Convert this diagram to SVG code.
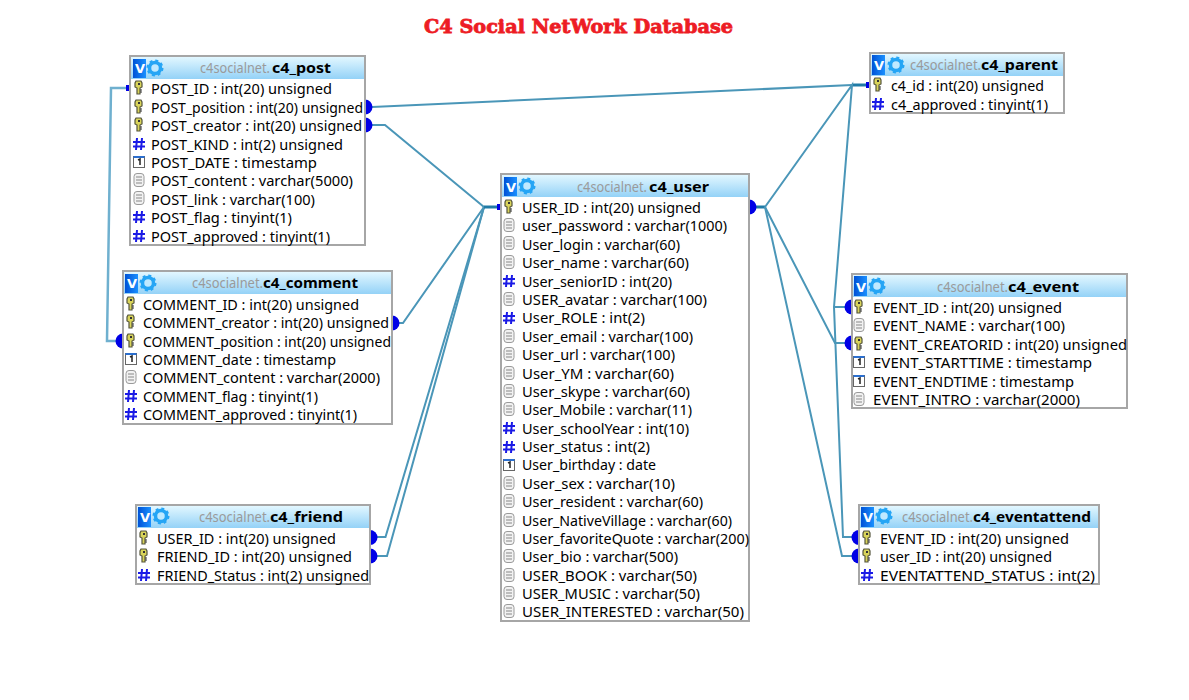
<svg xmlns="http://www.w3.org/2000/svg" width="1189" height="700" viewBox="0 0 1189 700">
<style>
.box{fill:#fff;stroke:#a6a6a6;stroke-width:2}
.hd{fill:url(#hg)}
.vb{fill:url(#vg)}
.v{font:bold 13px "DejaVu Sans",sans-serif;fill:#fff}
.r{font:14px "Noto Sans","Liberation Sans",sans-serif;fill:#000}
.t{font:14px "Noto Sans","Liberation Sans",sans-serif;fill:#9a9a9a}
.b{font:bold 15px "Noto Sans","Liberation Sans",sans-serif;fill:#000}
.c{fill:none;stroke:#4a96b8;stroke-width:2}
.k{fill:none;stroke:#1f7ba6;stroke-width:3}
.l{fill:none;stroke:#6fb0cf;stroke-width:2.500}
.p{fill:#0000e6}
.h{stroke:#1a1ae6;stroke-width:2;fill:none}
</style>
<defs>
<linearGradient id="hg" x1="0" y1="0" x2="0" y2="1"><stop offset="0" stop-color="#e2f7ff"/><stop offset="1" stop-color="#94d2f7"/></linearGradient>
<linearGradient id="vg" x1="0" y1="0" x2="1" y2="0"><stop offset="0" stop-color="#0052d6"/><stop offset="1" stop-color="#1a90ff"/></linearGradient>
<g id="gear"><circle r="5.500" fill="#bfe9ff" stroke="#25a5f5" stroke-width="3.500"/><circle r="7.500" fill="none" stroke="#25a5f5" stroke-width="2" stroke-dasharray="3 2.900"/></g>
<g id="key"><path d="M-3-7H2L3-5V-1L1 0V6H-2V0L-4-1V-5Z" fill="#d9d45a" stroke="#55553c" stroke-width="1.200"/><rect x="-1" y="-5" width="2" height="2" fill="#333"/><path d="M1 2H3M1 4H3" stroke="#333"/></g>
<g id="num"><path class="h" d="M-2-6-3 6M3-6 2 6M-6-2H6M-6 2.500H6"/></g>
<g id="dat"><rect x="-5.500" y="-5.500" width="11" height="11" fill="#fff" stroke="#666"/><rect x="-5.500" y="-6" width="11" height="2" fill="#2a6fd0"/><path d="M-1-2 1-3V3" fill="none" stroke="#222" stroke-width="1.500"/></g>
<g id="txt"><rect x="-5" y="-6.500" width="10" height="13" rx="3" fill="#f2f2f2" stroke="#9a9a9a"/><path d="M-3-3H3M-3 0H3M-3 3H3" stroke="#888"/></g>
</defs>
<rect width="1189" height="700" fill="#fff"/>
<text x="424" y="33" textLength="309" lengthAdjust="spacingAndGlyphs" font-family="'DejaVu Serif',serif" font-weight="bold" font-size="18" fill="#ed1c24" stroke="#ed1c24" stroke-width=".8">C4 Social NetWork Database</text>
<g id="connectors">
<path class="l" d="M130 88H111L107 341H118"/>
<path class="c" d="M372 107 852 85"/><path class="k" d="M852 85H870"/>
<path class="c" d="M372 125H385L484 207"/><path class="c" d="M398 323H403L484 207"/>
<path class="c" d="M376 537H385.500L484 207"/><path class="c" d="M376 556H387L484 207"/>
<path class="k" d="M484 207H501"/><path class="k" d="M749 207H765"/>
<path class="c" d="M765 207 852 85 834 307 843 537H855"/>
<path class="c" d="M834 307H848"/>
<path class="c" d="M765 207 835 343H848"/>
<path class="c" d="M765 207 842 556H855"/>
<rect class="p" x="126" y="85" width="4" height="6"/><rect class="p" x="497" y="204" width="4" height="6"/><rect class="p" x="866" y="82" width="4" height="6"/>
<path class="p" d="M123 333.500a7.500 7.500 0 0 0 0 15z"/>
<path class="p" d="M365 99.500a7.500 7.500 0 0 1 0 15z"/><path class="p" d="M365 117.500a7.500 7.500 0 0 1 0 15z"/>
<path class="p" d="M392 315.500a7.500 7.500 0 0 1 0 15z"/>
<path class="p" d="M370 530a7.500 7.500 0 0 1 0 15z"/><path class="p" d="M370 548.500a7.500 7.500 0 0 1 0 15z"/>
<path class="p" d="M749 199.500a7.500 7.500 0 0 1 0 15z"/>
<path class="p" d="M852 299.500a7.500 7.500 0 0 0 0 15z"/><path class="p" d="M852 335.500a7.500 7.500 0 0 0 0 15z"/>
<path class="p" d="M859 530a7.500 7.500 0 0 0 0 15z"/><path class="p" d="M859 548.500a7.500 7.500 0 0 0 0 15z"/>
</g>
<g id="c4_post">
<rect class="box" x="130" y="56" width="235" height="189"/><rect class="hd" x="131" y="57" width="233" height="22"/><rect class="vb" x="133" y="59" width="13" height="19"/><text class="v" x="135" y="73">V</text><use href="#gear" x="155" y="68"/>
<text class="t" x="200" y="73" textLength="70" lengthAdjust="spacingAndGlyphs">c4socialnet.</text><text class="b" x="272" y="73" textLength="59" lengthAdjust="spacingAndGlyphs">c4_post</text>
<use href="#key" x="139" y="88"/><text class="r" x="151" y="94" textLength="181" lengthAdjust="spacingAndGlyphs">POST_ID : int(20) unsigned</text>
<use href="#key" x="139" y="107"/><text class="r" x="151" y="113" textLength="212" lengthAdjust="spacingAndGlyphs">POST_position : int(20) unsigned</text>
<use href="#key" x="139" y="125"/><text class="r" x="151" y="131" textLength="211" lengthAdjust="spacingAndGlyphs">POST_creator : int(20) unsigned</text>
<use href="#num" x="139" y="144"/><text class="r" x="151" y="150" textLength="192" lengthAdjust="spacingAndGlyphs">POST_KIND : int(2) unsigned</text>
<use href="#dat" x="139" y="162"/><text class="r" x="151" y="168" textLength="166" lengthAdjust="spacingAndGlyphs">POST_DATE : timestamp</text>
<use href="#txt" x="139" y="180"/><text class="r" x="151" y="186" textLength="202" lengthAdjust="spacingAndGlyphs">POST_content : varchar(5000)</text>
<use href="#txt" x="139" y="198"/><text class="r" x="151" y="205" textLength="164" lengthAdjust="spacingAndGlyphs">POST_link : varchar(100)</text>
<use href="#num" x="139" y="217"/><text class="r" x="151" y="223" textLength="141" lengthAdjust="spacingAndGlyphs">POST_flag : tinyint(1)</text>
<use href="#num" x="139" y="236"/><text class="r" x="151" y="242" textLength="179" lengthAdjust="spacingAndGlyphs">POST_approved : tinyint(1)</text>
</g>
<g id="c4_comment">
<rect class="box" x="123" y="271" width="269" height="153"/><rect class="hd" x="124" y="272" width="267" height="22"/><rect class="vb" x="125" y="274" width="13" height="19"/><text class="v" x="127" y="288">V</text><use href="#gear" x="148" y="283"/>
<text class="t" x="192" y="288" textLength="71" lengthAdjust="spacingAndGlyphs">c4socialnet.</text><text class="b" x="263" y="288" textLength="95" lengthAdjust="spacingAndGlyphs">c4_comment</text>
<use href="#key" x="131" y="304"/><text class="r" x="143" y="310" textLength="216" lengthAdjust="spacingAndGlyphs">COMMENT_ID : int(20) unsigned</text>
<use href="#key" x="131" y="322"/><text class="r" x="143" y="328" textLength="246" lengthAdjust="spacingAndGlyphs">COMMENT_creator : int(20) unsigned</text>
<use href="#key" x="131" y="341"/><text class="r" x="143" y="347" textLength="248" lengthAdjust="spacingAndGlyphs">COMMENT_position : int(20) unsigned</text>
<use href="#dat" x="131" y="359"/><text class="r" x="143" y="365" textLength="193" lengthAdjust="spacingAndGlyphs">COMMENT_date : timestamp</text>
<use href="#txt" x="131" y="377"/><text class="r" x="143" y="383" textLength="237" lengthAdjust="spacingAndGlyphs">COMMENT_content : varchar(2000)</text>
<use href="#num" x="131" y="396"/><text class="r" x="143" y="402" textLength="175" lengthAdjust="spacingAndGlyphs">COMMENT_flag : tinyint(1)</text>
<use href="#num" x="131" y="414"/><text class="r" x="143" y="420" textLength="214" lengthAdjust="spacingAndGlyphs">COMMENT_approved : tinyint(1)</text>
</g>
<g id="c4_friend">
<rect class="box" x="136" y="505" width="234" height="79"/><rect class="hd" x="137" y="506" width="232" height="22"/><rect class="vb" x="138" y="507" width="13" height="20"/><text class="v" x="140" y="522">V</text><use href="#gear" x="161" y="516"/>
<text class="t" x="199" y="522" textLength="71" lengthAdjust="spacingAndGlyphs">c4socialnet.</text><text class="b" x="270" y="522" textLength="73" lengthAdjust="spacingAndGlyphs">c4_friend</text>
<use href="#key" x="144" y="538"/><text class="r" x="157" y="544" textLength="179" lengthAdjust="spacingAndGlyphs">USER_ID : int(20) unsigned</text>
<use href="#key" x="144" y="556"/><text class="r" x="157" y="562" textLength="195" lengthAdjust="spacingAndGlyphs">FRIEND_ID : int(20) unsigned</text>
<use href="#num" x="144" y="575"/><text class="r" x="157" y="581" textLength="212" lengthAdjust="spacingAndGlyphs">FRIEND_Status : int(2) unsigned</text>
</g>
<g id="c4_user">
<rect class="box" x="501" y="174" width="248" height="447"/><rect class="hd" x="502" y="175" width="246" height="22"/><rect class="vb" x="504" y="177" width="13" height="19"/><text class="v" x="506" y="192">V</text><use href="#gear" x="527" y="186"/>
<text class="t" x="577" y="192" textLength="70" lengthAdjust="spacingAndGlyphs">c4socialnet.</text><text class="b" x="649" y="192" textLength="60" lengthAdjust="spacingAndGlyphs">c4_user</text>
<use href="#key" x="509" y="207"/><text class="r" x="522" y="213" textLength="179" lengthAdjust="spacingAndGlyphs">USER_ID : int(20) unsigned</text>
<use href="#txt" x="509" y="225"/><text class="r" x="522" y="231" textLength="205" lengthAdjust="spacingAndGlyphs">user_password : varchar(1000)</text>
<use href="#txt" x="509" y="243"/><text class="r" x="522" y="250" textLength="158" lengthAdjust="spacingAndGlyphs">User_login : varchar(60)</text>
<use href="#txt" x="509" y="262"/><text class="r" x="522" y="268" textLength="167" lengthAdjust="spacingAndGlyphs">User_name : varchar(60)</text>
<use href="#num" x="509" y="281"/><text class="r" x="522" y="287" textLength="150" lengthAdjust="spacingAndGlyphs">User_seniorID : int(20)</text>
<use href="#txt" x="509" y="299"/><text class="r" x="522" y="305" textLength="185" lengthAdjust="spacingAndGlyphs">USER_avatar : varchar(100)</text>
<use href="#num" x="509" y="318"/><text class="r" x="522" y="323" textLength="123" lengthAdjust="spacingAndGlyphs">User_ROLE : int(2)</text>
<use href="#txt" x="509" y="336"/><text class="r" x="522" y="342" textLength="171" lengthAdjust="spacingAndGlyphs">User_email : varchar(100)</text>
<use href="#txt" x="509" y="354"/><text class="r" x="522" y="360" textLength="153" lengthAdjust="spacingAndGlyphs">User_url : varchar(100)</text>
<use href="#txt" x="509" y="373"/><text class="r" x="522" y="379" textLength="152" lengthAdjust="spacingAndGlyphs">User_YM : varchar(60)</text>
<use href="#txt" x="509" y="391"/><text class="r" x="522" y="397" textLength="168" lengthAdjust="spacingAndGlyphs">User_skype : varchar(60)</text>
<use href="#txt" x="509" y="409"/><text class="r" x="522" y="415" textLength="170" lengthAdjust="spacingAndGlyphs">User_Mobile : varchar(11)</text>
<use href="#num" x="509" y="428"/><text class="r" x="522" y="434" textLength="167" lengthAdjust="spacingAndGlyphs">User_schoolYear : int(10)</text>
<use href="#num" x="509" y="447"/><text class="r" x="522" y="452" textLength="128" lengthAdjust="spacingAndGlyphs">User_status : int(2)</text>
<use href="#dat" x="509" y="465"/><text class="r" x="522" y="470" textLength="134" lengthAdjust="spacingAndGlyphs">User_birthday : date</text>
<use href="#txt" x="509" y="483"/><text class="r" x="522" y="489" textLength="153" lengthAdjust="spacingAndGlyphs">User_sex : varchar(10)</text>
<use href="#txt" x="509" y="501"/><text class="r" x="522" y="507" textLength="181" lengthAdjust="spacingAndGlyphs">User_resident : varchar(60)</text>
<use href="#txt" x="509" y="520"/><text class="r" x="522" y="526" textLength="210" lengthAdjust="spacingAndGlyphs">User_NativeVillage : varchar(60)</text>
<use href="#txt" x="509" y="538"/><text class="r" x="522" y="544" textLength="227" lengthAdjust="spacingAndGlyphs">User_favoriteQuote : varchar(200)</text>
<use href="#txt" x="509" y="556"/><text class="r" x="522" y="562" textLength="156" lengthAdjust="spacingAndGlyphs">User_bio : varchar(500)</text>
<use href="#txt" x="509" y="575"/><text class="r" x="522" y="581" textLength="175" lengthAdjust="spacingAndGlyphs">USER_BOOK : varchar(50)</text>
<use href="#txt" x="509" y="593"/><text class="r" x="522" y="599" textLength="178" lengthAdjust="spacingAndGlyphs">USER_MUSIC : varchar(50)</text>
<use href="#txt" x="509" y="611"/><text class="r" x="522" y="617" textLength="222" lengthAdjust="spacingAndGlyphs">USER_INTERESTED : varchar(50)</text>
</g>
<g id="c4_parent">
<rect class="box" x="870" y="53" width="194" height="60"/><rect class="hd" x="871" y="54" width="192" height="22"/><rect class="vb" x="872" y="55" width="13" height="20"/><text class="v" x="874" y="70">V</text><use href="#gear" x="896" y="65"/>
<text class="t" x="910" y="70" textLength="71" lengthAdjust="spacingAndGlyphs">c4socialnet.</text><text class="b" x="981" y="70" textLength="77" lengthAdjust="spacingAndGlyphs">c4_parent</text>
<use href="#key" x="878" y="85"/><text class="r" x="891" y="91" textLength="153" lengthAdjust="spacingAndGlyphs">c4_id : int(20) unsigned</text>
<use href="#num" x="878" y="104"/><text class="r" x="891" y="110" textLength="157" lengthAdjust="spacingAndGlyphs">c4_approved : tinyint(1)</text>
</g>
<g id="c4_event">
<rect class="box" x="852" y="274" width="275" height="134"/><rect class="hd" x="853" y="275" width="273" height="22"/><rect class="vb" x="854" y="276" width="13" height="20"/><text class="v" x="856" y="292">V</text><use href="#gear" x="877" y="286"/>
<text class="t" x="937" y="292" textLength="71" lengthAdjust="spacingAndGlyphs">c4socialnet.</text><text class="b" x="1008" y="292" textLength="71" lengthAdjust="spacingAndGlyphs">c4_event</text>
<use href="#key" x="859" y="307"/><text class="r" x="873" y="313" textLength="189" lengthAdjust="spacingAndGlyphs">EVENT_ID : int(20) unsigned</text>
<use href="#txt" x="859" y="325"/><text class="r" x="873" y="331" textLength="192" lengthAdjust="spacingAndGlyphs">EVENT_NAME : varchar(100)</text>
<use href="#key" x="859" y="344"/><text class="r" x="873" y="350" textLength="254" lengthAdjust="spacingAndGlyphs">EVENT_CREATORID : int(20) unsigned</text>
<use href="#dat" x="859" y="362"/><text class="r" x="873" y="368" textLength="219" lengthAdjust="spacingAndGlyphs">EVENT_STARTTIME : timestamp</text>
<use href="#dat" x="859" y="381"/><text class="r" x="873" y="387" textLength="201" lengthAdjust="spacingAndGlyphs">EVENT_ENDTIME : timestamp</text>
<use href="#txt" x="859" y="399"/><text class="r" x="873" y="405" textLength="207" lengthAdjust="spacingAndGlyphs">EVENT_INTRO : varchar(2000)</text>
</g>
<g id="c4_eventattend">
<rect class="box" x="859" y="505" width="240" height="79"/><rect class="hd" x="860" y="506" width="238" height="22"/><rect class="vb" x="861" y="507" width="13" height="20"/><text class="v" x="863" y="522">V</text><use href="#gear" x="884" y="516"/>
<text class="t" x="902" y="522" textLength="71" lengthAdjust="spacingAndGlyphs">c4socialnet.</text><text class="b" x="973" y="522" textLength="118" lengthAdjust="spacingAndGlyphs">c4_eventattend</text>
<use href="#key" x="867" y="538"/><text class="r" x="880" y="544" textLength="189" lengthAdjust="spacingAndGlyphs">EVENT_ID : int(20) unsigned</text>
<use href="#key" x="867" y="556"/><text class="r" x="880" y="562" textLength="172" lengthAdjust="spacingAndGlyphs">user_ID : int(20) unsigned</text>
<use href="#num" x="867" y="575"/><text class="r" x="880" y="581" textLength="215" lengthAdjust="spacingAndGlyphs">EVENTATTEND_STATUS : int(2)</text>
</g>
</svg>
